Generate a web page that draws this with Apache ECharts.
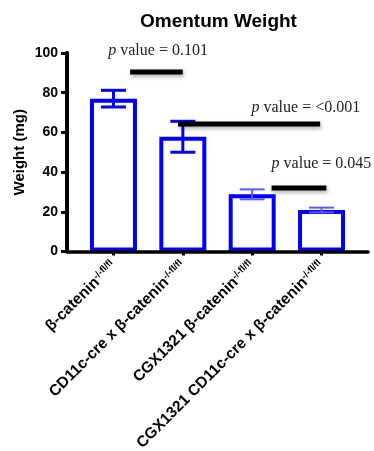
<!DOCTYPE html>
<html>
<head>
<meta charset="utf-8">
<script src="https://cdn.jsdelivr.net/npm/echarts@6/dist/echarts.min.js"></script>
<style>
  html, body { margin: 0; padding: 0; background: #ffffff; }
  #chart { width: 374px; height: 451px; }
</style>
</head>
<body>
<div id="chart"></div>
<script>
// Groups and their genotype superscript
const categories = ['β-catenin', 'CD11c-cre x β-catenin', 'CGX1321 β-catenin', 'CGX1321 CD11c-cre x β-catenin'];
const genotype = '-/-fl/fl';

// Omentum weight (mg): mean and SEM per group
const means = [77, 57.8, 28.8, 20.9];
const sems = [4.2, 7.8, 2.5, 1.2];

// Y axis ticks
const yTicks = [0, 20, 40, 60, 80, 100];

// Pairwise comparison p values
const pValues = ['0.101', '<0.001', '0.045'];
// comparison bracket spans (x from, x to) and heights in axis units
const bracketFrom = [0.24, 0.93, 2.28];
const bracketTo = [1.0, 2.98, 3.07];
const bracketY = [90.4, 64.2, 32.0];
// p value caption anchors (left edge, baseline) in axis units
const captionX = [-0.075, 1.99, 2.28];
const captionY = [99.1, 70.6, 42.4];

const BLUE = '#0000ff';
const SANS = '"Liberation Sans", Arial, sans-serif';
const SERIF = '"Liberation Serif", "Times New Roman", serif';

const chart = echarts.init(document.getElementById('chart'), null, { renderer: 'canvas' });

const barData = means.map((m, i) => [i, m]);
const errData = means.map((m, i) => [i, m - sems[i], m + sems[i]]);
const sigData = pValues.map((p, i) => [bracketFrom[i], bracketTo[i], bracketY[i], captionX[i], captionY[i], i]);

chart.setOption({
  animation: false,
  backgroundColor: '#ffffff',
  title: {
    text: 'Omentum Weight',
    left: 135,
    top: 7,
    textStyle: { fontFamily: SANS, fontWeight: 'bold', fontSize: 19, color: '#000' }
  },
  grid: { left: 67, right: 6, top: 53, bottom: 199.5, outerBoundsMode: 'none', containLabel: false },
  xAxis: {
    type: 'value',
    min: -0.67,
    max: 3.67,
    z: 5,
    splitLine: { show: false },
    axisLine: { show: true, onZero: false, lineStyle: { color: '#000', width: 3.5 } },
    axisTick: { show: true, customValues: [0, 1, 2, 3], length: 4, lineStyle: { color: '#000', width: 3 } },
    axisLabel: {
      show: true,
      customValues: [0, 1, 2, 3],
      rotate: 45,
      margin: 12,
      formatter: v => '{m|' + categories[Math.round(v)] + '}{s|' + genotype + '}',
      rich: {
        m: { fontFamily: SANS, fontWeight: 'bold', fontSize: 15.5, color: '#000', verticalAlign: 'bottom' },
        s: { fontFamily: SANS, fontWeight: 'bold', fontSize: 9.5, color: '#000', verticalAlign: 'top' }
      }
    }
  },
  yAxis: {
    type: 'value',
    min: 0,
    max: 100,
    interval: 20,
    z: 5,
    name: 'Weight (mg)',
    nameLocation: 'middle',
    nameGap: 40,
    nameMoveOverlap: false,
    nameTextStyle: { fontFamily: SANS, fontWeight: 'bold', fontSize: 15, color: '#000' },
    splitLine: { show: false },
    axisLine: { show: true, onZero: false, lineStyle: { color: '#000', width: 4 } },
    axisTick: { show: true, length: 6, lineStyle: { color: '#000', width: 3 } },
    axisLabel: {
      margin: 9,
      formatter: v => (yTicks.indexOf(v) >= 0 ? String(v) : ''),
      fontFamily: SANS, fontWeight: 'bold', fontSize: 14, color: '#000'
    }
  },
  series: [
    {
      type: 'bar',
      data: barData,
      barWidth: 47,
      itemStyle: { color: '#ffffff', borderColor: BLUE, borderWidth: 4 },
      z: 2
    },
    {
      // SEM whiskers with caps
      type: 'custom',
      data: errData,
      encode: { x: 0, y: [1, 2] },
      z: 3,
      renderItem: (params, api) => {
        const x = api.value(0);
        const lo = api.coord([x, api.value(1)]);
        const hi = api.coord([x, api.value(2)]);
        const half = 12.5;
        const thin = params.dataIndex >= 2;
        const style = { stroke: thin ? '#5a5aff' : BLUE, lineWidth: thin ? 2 : 3 };
        return {
          type: 'group',
          children: [
            { type: 'line', shape: { x1: lo[0], y1: lo[1], x2: hi[0], y2: hi[1] }, style },
            { type: 'line', shape: { x1: hi[0] - half, y1: hi[1], x2: hi[0] + half, y2: hi[1] }, style },
            { type: 'line', shape: { x1: lo[0] - half, y1: lo[1], x2: lo[0] + half, y2: lo[1] }, style }
          ]
        };
      }
    },
    {
      // comparison bars with their p value captions
      type: 'custom',
      data: sigData,
      encode: { x: [0, 1], y: 2 },
      z: 4,
      renderItem: (params, api) => {
        const a = api.coord([api.value(0), api.value(2)]);
        const b = api.coord([api.value(1), api.value(2)]);
        const t = api.coord([api.value(3), api.value(4)]);
        const idx = api.value(5);
        return {
          type: 'group',
          children: [
            {
              type: 'line',
              shape: { x1: a[0], y1: a[1], x2: b[0], y2: b[1] },
              style: {
                stroke: '#000', lineWidth: 5, lineCap: 'butt',
                shadowBlur: 4, shadowColor: 'rgba(0,0,0,0.35)', shadowOffsetX: 1, shadowOffsetY: 2
              }
            },
            {
              type: 'text',
              x: t[0],
              y: t[1] + 4,
              style: {
                text: '{i|p} value = ' + pValues[idx],
                fontFamily: SERIF,
                fontSize: 16,
                fill: '#222',
                align: 'left',
                verticalAlign: 'bottom',
                rich: { i: { fontFamily: SERIF, fontSize: 16, fontStyle: 'italic', fill: '#222' } }
              }
            }
          ]
        };
      }
    }
  ]
});
</script>
</body>
</html>
